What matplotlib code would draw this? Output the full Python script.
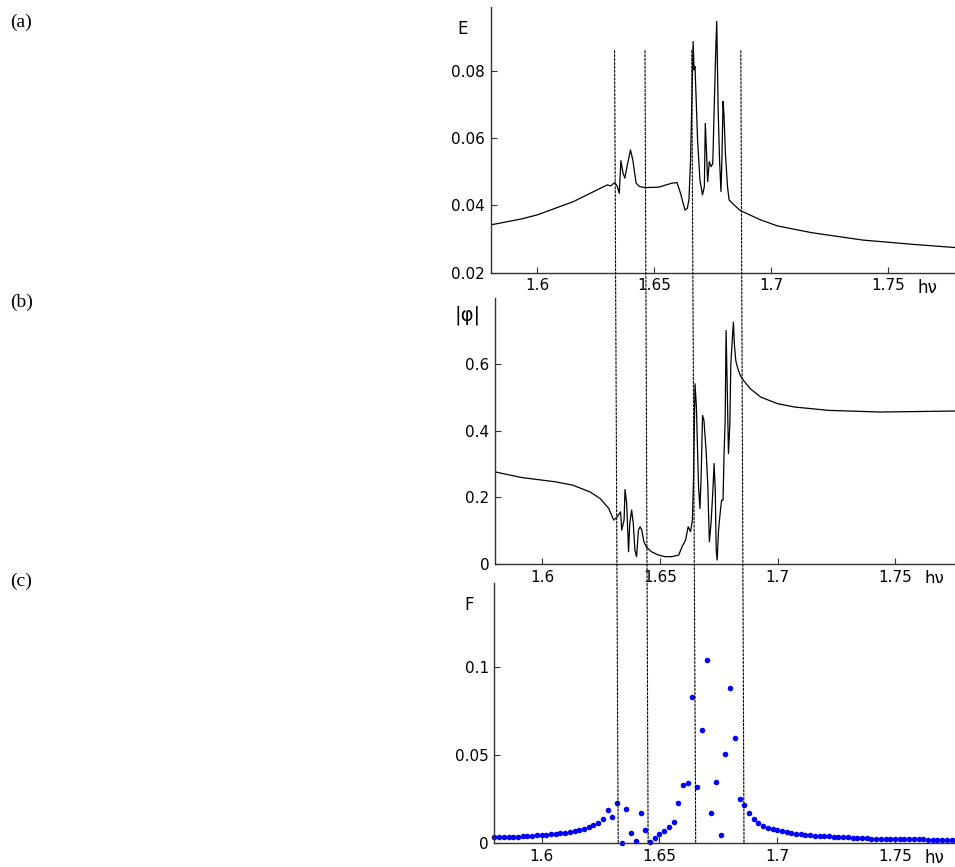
import numpy as np
import matplotlib
matplotlib.use("Agg")
import matplotlib.pyplot as plt
from matplotlib.patches import ConnectionPatch
from matplotlib.ticker import FormatStrFormatter

# (a) E(hv)
E_hnu = [1.58, 1.5934, 1.6, 1.6153, 1.6255, 1.6299, 1.6313, 1.6331, 1.6342, 1.6350,
         1.6357, 1.6366, 1.6374, 1.6383, 1.6398, 1.6408, 1.6422, 1.6437, 1.6459, 1.6517,
         1.6575, 1.6597, 1.6612, 1.6631, 1.6641, 1.6648, 1.6655, 1.6666, 1.6670, 1.6674,
         1.6685, 1.6695, 1.6706, 1.6714, 1.6718, 1.6724, 1.6728, 1.6735, 1.6743, 1.6750,
         1.6757, 1.6763, 1.6767, 1.6773, 1.6779, 1.6785, 1.6789, 1.6794, 1.6798, 1.6804,
         1.6813, 1.6820, 1.6837, 1.6867, 1.6954, 1.7027, 1.7172, 1.7391, 1.7609, 1.7781,
         1.79]
E_val = [0.0342, 0.0360, 0.0372, 0.0411, 0.0446, 0.0461, 0.0458, 0.0468, 0.0456, 0.0436,
         0.0533, 0.0496, 0.0481, 0.0515, 0.0565, 0.0535, 0.0466, 0.0456, 0.0453, 0.0454,
         0.0466, 0.0468, 0.0436, 0.0386, 0.0391, 0.0416, 0.0535, 0.0887, 0.0803, 0.0813,
         0.0595, 0.0476, 0.0431, 0.0456, 0.0644, 0.0545, 0.0471, 0.0530, 0.0515, 0.0525,
         0.0714, 0.0867, 0.0947, 0.0684, 0.0535, 0.0441, 0.0535, 0.0709, 0.0669, 0.0555,
         0.0456, 0.0416, 0.0404, 0.0385, 0.0357, 0.0339, 0.0319, 0.0297, 0.0284, 0.0275,
         0.0273]

# (b) |phi|(hv)
P_hnu = [1.58, 1.5913, 1.6058, 1.6130, 1.6203, 1.6246, 1.6283, 1.6304, 1.6319, 1.6333,
         1.6338, 1.6348, 1.6352, 1.6359, 1.6367, 1.6372, 1.6380, 1.6387, 1.6394, 1.6401,
         1.6409, 1.6416, 1.6423, 1.6432, 1.6442, 1.6464, 1.6493, 1.6522, 1.6551, 1.6580,
         1.6594, 1.6609, 1.6620, 1.6630, 1.6638, 1.6643, 1.6649, 1.6655, 1.6664, 1.6670,
         1.6675, 1.6681, 1.6687, 1.6696, 1.6703, 1.6710, 1.6717, 1.6725, 1.6730, 1.6735,
         1.6739, 1.6743, 1.6749, 1.6757, 1.6762, 1.6768, 1.6772, 1.6777, 1.6781, 1.6786,
         1.6791, 1.6797, 1.6801, 1.6807, 1.6812, 1.6816, 1.6822, 1.6829, 1.6841, 1.6855,
         1.6884, 1.6928, 1.7000, 1.7072, 1.7217, 1.7435, 1.7751, 1.79]
P_val = [0.277, 0.260, 0.247, 0.237, 0.217, 0.197, 0.167, 0.132, 0.142, 0.157,
         0.102, 0.132, 0.224, 0.182, 0.037, 0.122, 0.162, 0.122, 0.042, 0.022,
         0.102, 0.112, 0.102, 0.067, 0.052, 0.037, 0.027, 0.022, 0.022, 0.027,
         0.052, 0.072, 0.112, 0.097, 0.132, 0.262, 0.542, 0.472, 0.232, 0.167,
         0.262, 0.447, 0.432, 0.342, 0.242, 0.067, 0.122, 0.222, 0.302, 0.222,
         0.042, 0.012, 0.102, 0.162, 0.192, 0.192, 0.322, 0.432, 0.702, 0.522,
         0.332, 0.422, 0.602, 0.672, 0.727, 0.662, 0.612, 0.592, 0.567, 0.552,
         0.527, 0.502, 0.482, 0.472, 0.462, 0.457, 0.460, 0.460]

# (c) F on a regular hv grid, step 0.002 from 1.58
F_hnu = np.round(np.arange(1.58, 1.7801, 0.002), 3)
F_val = [0.0034, 0.0034, 0.0036, 0.0037, 0.0037, 0.0038, 0.0042, 0.0042, 0.0043, 0.0046,
         0.0047, 0.0050, 0.0051, 0.0054, 0.0058, 0.0060, 0.0063, 0.0070, 0.0077, 0.0083,
         0.0090, 0.0102, 0.0117, 0.0136, 0.0188, 0.0147, 0.0226, 0.0004, 0.0194, 0.0060,
         0.0012, 0.0170, 0.0077, 0.0007, 0.0030, 0.0053, 0.0070, 0.0092, 0.0122, 0.0228,
         0.0330, 0.0343, 0.0830, 0.0319, 0.0640, 0.1041, 0.0173, 0.0349, 0.0050, 0.0505,
         0.0883, 0.0598, 0.0252, 0.0215, 0.0170, 0.0139, 0.0113, 0.0098, 0.0087, 0.0079,
         0.0075, 0.0068, 0.0064, 0.0060, 0.0054, 0.0051, 0.0050, 0.0047, 0.0044, 0.0043,
         0.0042, 0.0040, 0.0038, 0.0036, 0.0034, 0.0034, 0.0032, 0.0032, 0.0030, 0.0030,
         0.0027, 0.0026, 0.0026, 0.0026, 0.0026, 0.0026, 0.0024, 0.0024, 0.0024, 0.0023,
         0.0023, 0.0023, 0.0020, 0.0020, 0.0020, 0.0019, 0.0019, 0.0019, 0.0018, 0.0018,
         0.0018]

# dashed guide lines: position at top of (a) and at bottom of (c)
guide_top = [1.633, 1.646, 1.666, 1.687]
guide_bot = [1.6325, 1.6452, 1.6654, 1.6859]

fig = plt.figure(figsize=(9.55, 8.67), dpi=100)
ax_a = fig.add_axes([0.5138, 0.6855, 0.4896, 0.3065])
ax_b = fig.add_axes([0.5183, 0.3495, 0.4934, 0.3068])
ax_c = fig.add_axes([0.5178, 0.0273, 0.4934, 0.3002])

tick_font = dict(family="DejaVu Sans", size=11)

def style_axis(ax, ylim, yticks):
    ax.set_xlim(1.58, 1.78)
    ax.set_ylim(*ylim)
    ax.set_xticks([1.6, 1.65, 1.7, 1.75])
    ax.set_yticks(yticks)
    ax.xaxis.set_major_formatter(FormatStrFormatter('%g'))
    ax.yaxis.set_major_formatter(FormatStrFormatter('%g'))
    for s in ['top', 'right']:
        ax.spines[s].set_visible(False)
    for s in ['left', 'bottom']:
        ax.spines[s].set_color('#333333')
        ax.spines[s].set_linewidth(1.0)
    ax.tick_params(direction='in', length=4, width=0.8, color='#333333', pad=4)
    for lab in ax.get_xticklabels() + ax.get_yticklabels():
        lab.set_fontfamily(tick_font['family'])
        lab.set_fontsize(tick_font['size'])
    ax.annotate('hν', xy=(1.7625, 0), xycoords=('data', 'axes fraction'),
                xytext=(0, -15), textcoords='offset pixels',
                ha='left', va='center', fontsize=12, family='DejaVu Sans',
                annotation_clip=False)

ax_a.plot(E_hnu, E_val, color='black', lw=0.9)
style_axis(ax_a, (0.02, 0.099), [0.02, 0.04, 0.06, 0.08])

ax_b.plot(P_hnu, P_val, color='black', lw=0.9)
style_axis(ax_b, (0, 0.8), [0, 0.2, 0.4, 0.6])

ax_c.plot(F_hnu, F_val, linestyle='none', marker='o', ms=4, mew=0,
          color='#0000ff', clip_on=False)
style_axis(ax_c, (0, 0.1475), [0, 0.05, 0.1])

for xt, xb in zip(guide_top, guide_bot):
    con = ConnectionPatch(xyA=(xt, 0.086), coordsA=ax_a.transData,
                          xyB=(xb, 0.0), coordsB=ax_c.transData,
                          color='black', lw=0.8, linestyle=(0, (2, 1.5)))
    fig.add_artist(con)

fig.text(0.4848, 0.9671, 'E', ha='center', va='center', fontsize=12, family='DejaVu Sans')
fig.text(0.490, 0.6367, '|φ|', ha='center', va='center', fontsize=14, family='DejaVu Sans')
fig.text(0.491, 0.3022, 'F', ha='center', va='center', fontsize=12, family='DejaVu Sans')

for lab, y in [('(a)', 0.9746), ('(b)', 0.6517), ('(c)', 0.3299)]:
    fig.text(0.0225, y, lab, ha='center', va='center', fontsize=14, family='Liberation Serif')

fig.savefig('out.png', dpi=100)
